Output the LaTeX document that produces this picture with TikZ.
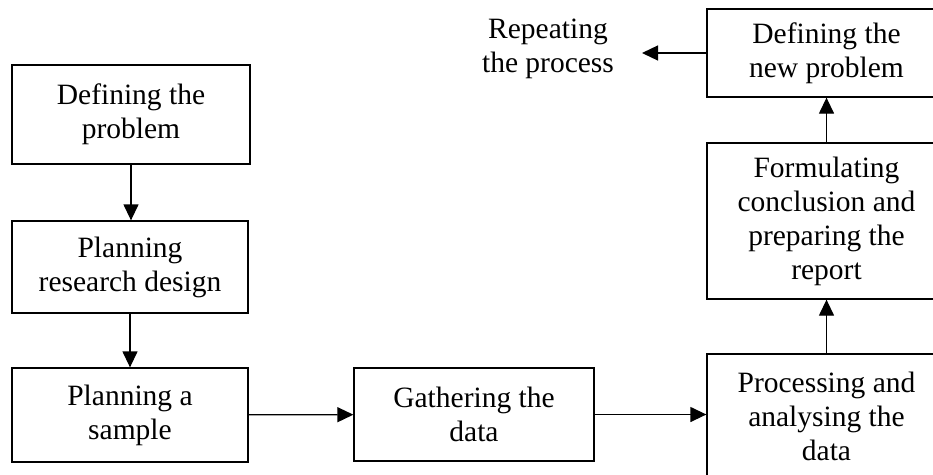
\documentclass[tikz,border=0pt]{standalone}
\usepackage{fontspec}
\setmainfont{Liberation Serif}
\usetikzlibrary{arrows.meta}
\tikzset{
  box/.style={draw=black, line width=1.3pt, fill=white, align=center, inner sep=0pt,
    font=\fontsize{29.5}{34}\selectfont},
  plain/.style={align=center, inner sep=0pt, font=\fontsize{29.5}{34}\selectfont},
  arr/.style={line width=1.3pt, -{Triangle[length=16pt,width=15pt]}}
}
\begin{document}
\begin{tikzpicture}[x=1pt,y=-1pt]
\clip (0,0) rectangle (933,474);
\fill[white] (0,0) rectangle (933,474);
\node[box, minimum width=238pt, minimum height=99pt] (b1) at (131,114.5) {Defining the\\problem};
\node[box, minimum width=236pt, minimum height=92pt] (b2) at (130,267) {Planning\\research design};
\node[box, minimum width=236pt, minimum height=94pt] (b3) at (130,415) {Planning a\\sample};
\node[box, minimum width=240pt, minimum height=93pt] (b4) at (474,414.5) {Gathering the\\data};
\node[box, minimum width=239pt, minimum height=124pt] (b5) at (826.5,416) {Processing and\\analysing the\\data};
\node[box, minimum width=239pt, minimum height=156pt] (b6) at (826.5,221) {Formulating\\conclusion and\\preparing the\\report};
\node[box, minimum width=239pt, minimum height=88pt] (b7) at (826.5,53) {Defining the\\new problem};
\node[plain] (rep) at (548,48.5) {Repeating\\the process};
\coordinate (repin) at (642,53);
\draw[arr] (b1.south -| 131,0) -- (b2.north -| 131,0);
\draw[arr] (b2) -- (b3);
\draw[arr] (b3) -- (b4);
\draw[arr] (b4.east) -- (b4.east -| b5.west);
\draw[arr] (b5) -- (b6);
\draw[arr] (b6) -- (b7);
\draw[arr] (b7.west) -- (repin);
\end{tikzpicture}
\end{document}
